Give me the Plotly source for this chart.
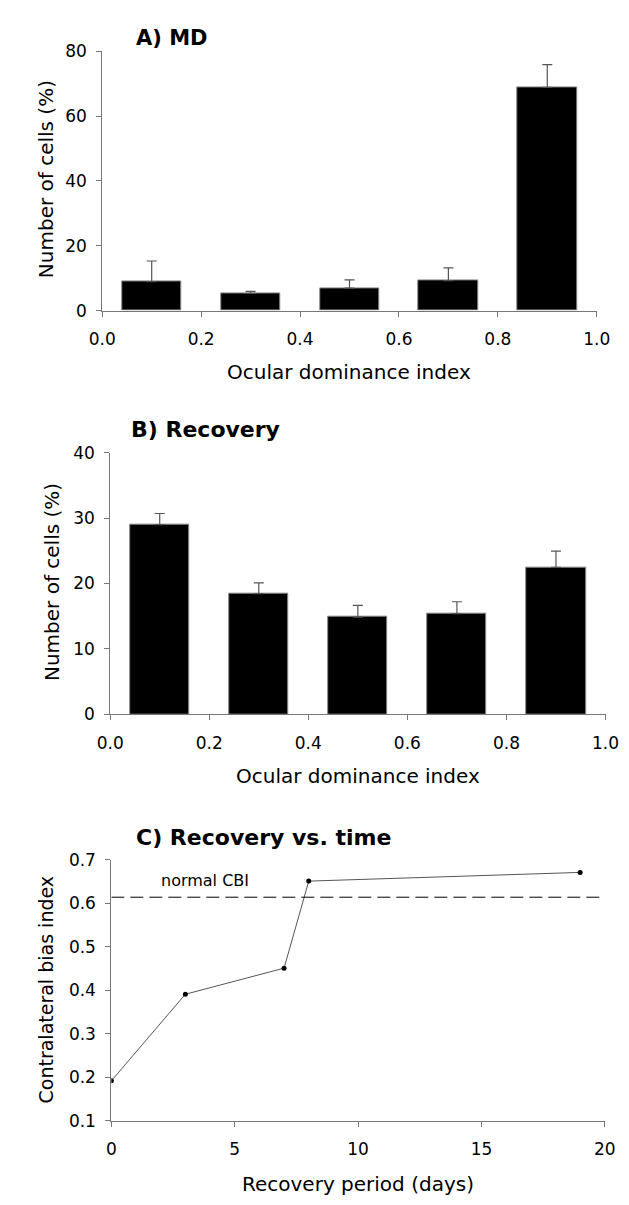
import plotly.graph_objects as go

# ---- data ----
od_index = [0.1, 0.3, 0.5, 0.7, 0.9]
md_values = [8.9, 5.3, 6.9, 9.2, 68.9]
md_errors = [6.4, 0.6, 2.6, 4.0, 7.0]
rec_values = [29.0, 18.45, 14.85, 15.4, 22.45]
rec_errors = [1.7, 1.65, 1.8, 1.8, 2.5]
rec_days = [0, 3, 7, 8, 19]
cbi_values = [0.192, 0.391, 0.451, 0.651, 0.671]
normal_cbi = 0.614

W, H = 629, 1205
FONT = "DejaVu Sans, Liberation Sans, Arial, sans-serif"

fig = go.Figure()

bar_style = dict(marker=dict(color="black", line=dict(color="#888888", width=1)),
                 width=0.12, showlegend=False)
err_style = dict(type="data", symmetric=False, color="#555555", thickness=1.2, width=5)

fig.add_trace(go.Bar(x=od_index, y=md_values,
                     error_y=dict(array=md_errors, arrayminus=[0]*5, **err_style),
                     xaxis="x", yaxis="y", **bar_style))
fig.add_trace(go.Bar(x=od_index, y=rec_values,
                     error_y=dict(array=rec_errors, arrayminus=[0]*5, **err_style),
                     xaxis="x2", yaxis="y2", **bar_style))
fig.add_trace(go.Scatter(x=rec_days, y=cbi_values, mode="lines+markers",
                         line=dict(color="#555555", width=1),
                         marker=dict(color="black", size=5, symbol="circle"),
                         xaxis="x3", yaxis="y3", showlegend=False))

def px_x(p):
    return p / W

def px_y(p):
    return 1 - p / H

axis_common = dict(showgrid=False, zeroline=False, showline=True, linecolor="#777777",
                   linewidth=1, ticks="outside", ticklen=5, tickcolor="#777777",
                   tickfont=dict(family=FONT, size=17, color="black"))
xaxis_common = dict(ticklabelstandoff=8, **axis_common)
yaxis_common = dict(ticklabelstandoff=6, **axis_common)

# panel boxes (pixels): x0, x1, ytop, ybottom
A = (84, 601.5, 34, 297.5)
B = (92.3, 610.7, 442, 708)
C = (93.5, 610, 856, 1121.5)

fig.update_layout(
    width=W, height=H, margin=dict(l=0, r=0, t=0, b=0),
    paper_bgcolor="white", plot_bgcolor="white",
    bargap=0,
    xaxis=dict(domain=[px_x(A[0]), px_x(A[1])], anchor="y", range=[0, 1], dtick=0.2,
               tickformat=".1f", **xaxis_common),
    yaxis=dict(domain=[px_y(A[3]), px_y(A[2])], anchor="x", range=[0, 80], dtick=20,
               **yaxis_common),
    xaxis2=dict(domain=[px_x(B[0]), px_x(B[1])], anchor="y2", range=[0, 1], dtick=0.2,
                tickformat=".1f", **xaxis_common),
    yaxis2=dict(domain=[px_y(B[3]), px_y(B[2])], anchor="x2", range=[0, 40], dtick=10,
                **yaxis_common),
    xaxis3=dict(domain=[px_x(C[0]), px_x(C[1])], anchor="y3", range=[0, 20], dtick=5,
                **xaxis_common),
    yaxis3=dict(domain=[px_y(C[3]), px_y(C[2])], anchor="x3", range=[0.1, 0.7], dtick=0.1,
                tickformat=".1f", **yaxis_common),
    shapes=[dict(type="line", xref="x3", yref="y3", x0=0, x1=20, y0=normal_cbi, y1=normal_cbi,
                 line=dict(color="black", width=1, dash="13px,6px"))],
)

def ann(text, x, y, size, bold=False, angle=0, xanchor="center", xref="paper", yref="paper"):
    fig.add_annotation(text=f"<b>{text}</b>" if bold else text, x=x, y=y,
                       xref=xref, yref=yref, xanchor=xanchor, yanchor="middle",
                       showarrow=False, textangle=angle,
                       font=dict(family=FONT, size=size, color="black"))

# panel titles
ann("A) MD", px_x(117), px_y(20), 21, bold=True, xanchor="left")
ann("B) Recovery", px_x(112), px_y(418), 22, bold=True, xanchor="left")
ann("C) Recovery vs. time", px_x(117), px_y(833), 22, bold=True, xanchor="left")

# axis titles
ann("Ocular dominance index", px_x((A[0] + A[1]) / 2), px_y(360), 20)
ann("Ocular dominance index", px_x((B[0] + B[1]) / 2), px_y(771), 20)
ann("Recovery period (days)", px_x((C[0] + C[1]) / 2), px_y(1186), 20)
ann("Number of cells (%)", px_x(25), px_y(164), 20, angle=-90)
ann("Number of cells (%)", px_x(32), px_y(574), 20, angle=-90)
ann("Contralateral bias index", px_x(25), px_y(988), 19, angle=-90)

# reference line label
ann("normal CBI", 1.92, 0.652, 16, xanchor="left", xref="x3", yref="y3")

fig.write_html("out.html")
